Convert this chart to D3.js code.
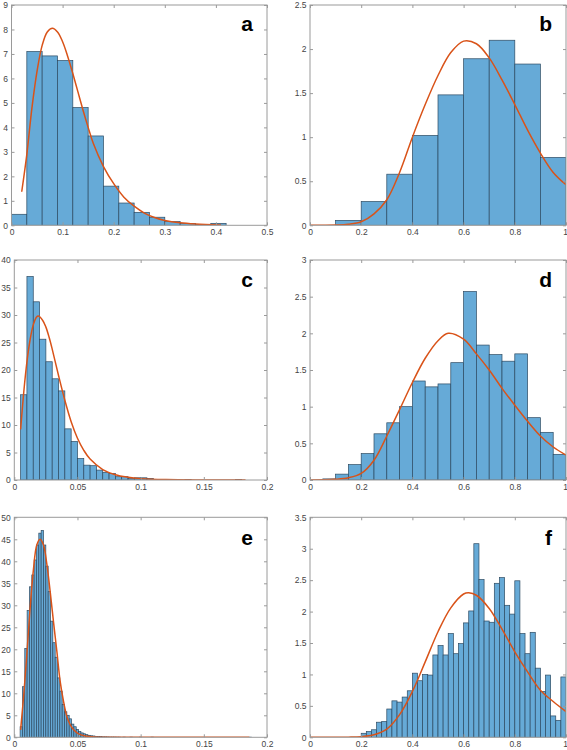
<!DOCTYPE html>
<html><head><meta charset="utf-8">
<script src="https://cdn.jsdelivr.net/npm/d3@7"></script>
<style>
body{margin:0;background:#fff}
svg{display:block}
text{font-family:"Liberation Sans",Arial,Helvetica,sans-serif}
</style>
</head><body>
<svg id="chart" width="567" height="750"></svg>
<script>
// ---------- data ----------
// Panel a
const binStartA = 0, binWidthA = 0.03;
const histA = [0.45, 7.1, 6.92, 6.73, 4.81, 3.65, 1.6, 0.91, 0.53, 0.33, 0.15, 0.07, 0.03, 0.08];
const curveA = [[0.02,1.37],[0.03,2.9],[0.04,4.8],[0.05,6.3],[0.06,7.35],[0.07,7.9],[0.08,8.05],[0.09,7.9],[0.10,7.5],[0.11,6.9],[0.12,6.2],[0.13,5.45],[0.14,4.7],[0.15,4.0],[0.16,3.35],[0.18,2.4],[0.20,1.7],[0.22,1.15],[0.24,0.78],[0.26,0.5],[0.28,0.32],[0.30,0.2],[0.33,0.1],[0.36,0.05],[0.41,0.01]];
const xTicksA = [0,0.1,0.2,0.3,0.4,0.5];
const yTicksA = [0,1,2,3,4,5,6,7,8,9];

// Panel b
const binStartB = 0.1, binWidthB = 0.1;
const histB = [0.056, 0.27, 0.58, 1.02, 1.48, 1.89, 2.10, 1.83, 0.77];
const curveB = [[0,0],[0.1,0.003],[0.15,0.012],[0.2,0.04],[0.25,0.13],[0.3,0.29],[0.35,0.6],[0.4,1.0],[0.45,1.37],[0.5,1.7],[0.55,1.96],[0.6,2.09],[0.65,2.06],[0.7,1.9],[0.75,1.65],[0.8,1.37],[0.85,1.08],[0.9,0.82],[0.95,0.6],[1.0,0.46]];
const xTicksB = [0,0.2,0.4,0.6,0.8,1];
const yTicksB = [0,0.5,1,1.5,2,2.5];

// Panel c
const binStartC = 0.005, binWidthC = 0.005;
const histC = [15.5,37.0,32.4,25.6,21.5,18.4,16.2,9.3,7.0,3.9,2.7,2.6,1.8,1.4,1.2,0.6,0.6,0.25,0.4,0.4,0.3,0,0.1,0,0,0,0.1,0,0,0,0,0,0,0,0.1,0];
const curveC = [[0.005,9.2],[0.0075,16],[0.01,21.5],[0.0125,25.5],[0.015,28.2],[0.0175,29.6],[0.019,29.8],[0.0225,29],[0.025,27.8],[0.0275,26],[0.03,23.8],[0.035,19],[0.04,14.5],[0.045,10.6],[0.05,7.6],[0.055,5.4],[0.06,3.8],[0.07,1.9],[0.08,0.95],[0.09,0.5],[0.1,0.25],[0.12,0.07],[0.15,0.01],[0.183,0]];
const xTicksC = [0,0.05,0.1,0.15,0.2];
const yTicksC = [0,5,10,15,20,25,30,35,40];

// Panel d
const binStartD = 0.05, binWidthD = 0.05;
const histD = [0.015,0.08,0.21,0.36,0.63,0.78,1.0,1.35,1.27,1.31,1.6,2.57,1.84,1.71,1.62,1.72,0.85,0.65,0.35];
const curveD = [[0,0],[0.1,0.01],[0.15,0.03],[0.2,0.09],[0.25,0.27],[0.3,0.6],[0.35,0.96],[0.4,1.33],[0.45,1.66],[0.5,1.9],[0.54,2.0],[0.6,1.92],[0.65,1.72],[0.7,1.5],[0.75,1.25],[0.8,1.02],[0.85,0.8],[0.9,0.6],[0.95,0.45],[1.0,0.34]];
const xTicksD = [0,0.2,0.4,0.6,0.8,1];
const yTicksD = [0,0.5,1,1.5,2,2.5,3];

// Panel e
const binStartE = 0.0046, binWidthE = 0.00185;
const histE = [2.4,11.5,20.2,28.8,34.2,36.9,40.3,43.7,46.4,47.0,
  43.7,38.9,33.1,26.4,21.5,18.2,13.5,10.5,7.5,5.8,
  5.0,4.2,3.0,2.4,1.8,1.3,1.0,0.8,0.6,0.45,
  0.35,0.3,0.2,0.2,0.15,0.1,0.1,0.08,0.05,0.05,
  0.05,0.03,0.03,0,0.03,0,0,0.03,0,0,
  0,0.03,0,0,0,0,0.03,0,0,0,
  0,0,0,0,0,0,0,0,0,0,
  0,0,0,0,0,0,0,0,0,0,
  0,0,0,0,0,0,0,0,0,0,
  0,0,0,0,0,0,0,0,0.03];
const curveE = [[0.005,1.7],[0.0077,10.4],[0.0101,19.5],[0.0125,29.3],[0.0151,38],[0.0178,43.7],[0.0204,45],[0.0231,43.7],[0.0257,39.5],[0.0284,33.1],[0.031,26.3],[0.0337,19.5],[0.0363,12.7],[0.039,8.1],[0.0416,4.7],[0.0443,2.8],[0.047,1.7],[0.0509,0.76],[0.0562,0.3],[0.063,0.08],[0.08,0.01],[0.186,0]];
const xTicksE = [0,0.05,0.1,0.15,0.2];
const yTicksE = [0,5,10,15,20,25,30,35,40,45,50];

// Panel f
const binStartF = 0.2, binWidthF = 0.02;
const histF = [0.064,0.09,0.12,0.24,0.25,0.45,0.58,0.56,0.64,0.74,
  1.02,0.9,1.0,0.99,1.31,1.46,1.31,1.65,1.33,1.49,
  1.82,2.01,3.08,2.51,1.85,1.83,2.45,2.54,2.1,1.96,
  2.49,1.65,1.33,1.67,1.1,0.73,0.99,0.34,0.27,0.96];
const curveF = [[0,0],[0.15,0.002],[0.2,0.01],[0.25,0.04],[0.3,0.13],[0.35,0.36],[0.4,0.73],[0.45,1.2],[0.5,1.68],[0.55,2.06],[0.6,2.28],[0.62,2.3],[0.65,2.26],[0.7,2.05],[0.75,1.72],[0.8,1.36],[0.85,1.04],[0.9,0.75],[0.95,0.57],[1.0,0.41]];
const xTicksF = [0,0.2,0.4,0.6,0.8,1];
const yTicksF = [0,0.5,1,1.5,2,2.5,3,3.5];

const panelLabels = ["a","b","c","d","e","f"];

// ---------- layout (positions only) ----------
const layout = [
  {l:11.5, r:267, t:5,     b:225.3, lab:25.5},
  {l:310,  r:566, t:5,     b:225.3, lab:25.5},
  {l:14.3, r:267, t:260,   b:480,   lab:27},
  {l:310,  r:566, t:260,   b:480,   lab:27},
  {l:14.3, r:267, t:517.3, b:737.3, lab:28},
  {l:310,  r:566, t:517.3, b:737.3, lab:28}
];

const panels = [
  {hist:histA, start:binStartA, width:binWidthA, curve:curveA, xt:xTicksA, yt:yTicksA},
  {hist:histB, start:binStartB, width:binWidthB, curve:curveB, xt:xTicksB, yt:yTicksB},
  {hist:histC, start:binStartC, width:binWidthC, curve:curveC, xt:xTicksC, yt:yTicksC},
  {hist:histD, start:binStartD, width:binWidthD, curve:curveD, xt:xTicksD, yt:yTicksD},
  {hist:histE, start:binStartE, width:binWidthE, curve:curveE, xt:xTicksE, yt:yTicksE},
  {hist:histF, start:binStartF, width:binWidthF, curve:curveF, xt:xTicksF, yt:yTicksF}
];

// ---------- drawing ----------
const svg = d3.select("#chart");
const BAR_FILL = "#66aad7", BAR_STROKE = "#2d4a62", CURVE = "#d95319";
const AX = "#9a9a9a", LBL = "#454545";
const W = 567;

panels.forEach((p, i) => {
  const L = layout[i];
  const x = d3.scaleLinear().domain([p.xt[0], p.xt[p.xt.length-1]]).range([L.l, L.r]);
  const y = d3.scaleLinear().domain([p.yt[0], p.yt[p.yt.length-1]]).range([L.b, L.t]);
  const g = svg.append("g");

  const clipId = "clip" + i;
  svg.append("clipPath").attr("id", clipId).append("rect")
    .attr("x", L.l).attr("y", L.t).attr("width", L.r - L.l).attr("height", L.b - L.t);

  const bins = p.hist.map((v, k) => ({x0: p.start + k * p.width, x1: p.start + (k + 1) * p.width, v}));
  g.append("g").attr("clip-path", `url(#${clipId})`)
    .selectAll("rect").data(bins.filter(d => d.v > 0)).join("rect")
    .attr("x", d => x(d.x0)).attr("width", d => x(d.x1) - x(d.x0))
    .attr("y", d => y(d.v)).attr("height", d => y(0) - y(d.v))
    .attr("fill", BAR_FILL).attr("stroke", BAR_STROKE).attr("stroke-width", 0.7);

  const line = d3.line().x(d => x(d[0])).y(d => y(d[1])).curve(d3.curveCatmullRom.alpha(0.5));
  g.append("path").attr("clip-path", `url(#${clipId})`)
    .attr("d", line(p.curve)).attr("fill", "none")
    .attr("stroke", CURVE).attr("stroke-width", 1.5);

  const fmt = v => String(v);
  const styleAxis = sel => {
    sel.select(".domain").remove();
    sel.selectAll(".tick line").attr("stroke", AX);
    sel.selectAll(".tick text").attr("fill", LBL).style("font-size", "8.5px")
      .style("font-family", '"Liberation Sans", Arial, sans-serif');
  };
  const xb = g.append("g").attr("transform", `translate(0,${L.b})`)
    .call(d3.axisBottom(x).tickValues(p.xt).tickFormat(fmt).tickSizeInner(-3).tickSizeOuter(0).tickPadding(4))
    .call(styleAxis);
  // keep the last label inside the window
  if (L.r > W - 4) {
    xb.selectAll(".tick text").filter((d, k, n) => k === n.length - 1)
      .attr("text-anchor", "end").attr("dx", (W - L.r) + 0.5 + "px");
  }
  g.append("g").attr("transform", `translate(0,${L.t})`)
    .call(d3.axisTop(x).tickValues(p.xt).tickFormat("").tickSizeInner(-3).tickSizeOuter(0))
    .call(styleAxis);
  g.append("g").attr("transform", `translate(${L.l},0)`)
    .call(d3.axisLeft(y).tickValues(p.yt).tickFormat(fmt).tickSizeInner(-3).tickSizeOuter(0).tickPadding(3.5))
    .call(styleAxis);
  g.append("g").attr("transform", `translate(${L.r},0)`)
    .call(d3.axisRight(y).tickValues(p.yt).tickFormat("").tickSizeInner(-3).tickSizeOuter(0))
    .call(styleAxis);

  g.append("rect").attr("x", L.l).attr("y", L.t).attr("width", L.r - L.l).attr("height", L.b - L.t)
    .attr("fill", "none").attr("stroke", AX).attr("stroke-width", 1);

  g.append("text").attr("x", L.r - 14).attr("y", L.t + L.lab)
    .attr("text-anchor", "end").attr("font-weight", "bold").style("font-size", "21px")
    .attr("fill", "#000").text(panelLabels[i]);
});
</script>
</body></html>
